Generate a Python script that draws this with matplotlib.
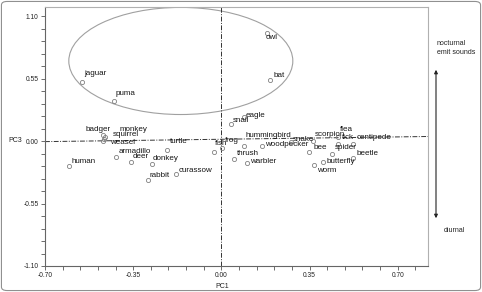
import numpy as np
import matplotlib
matplotlib.use("Agg")
import matplotlib.pyplot as plt
from matplotlib.patches import Ellipse, FancyBboxPatch, FancyArrowPatch

plt.rcParams['font.family'] = ['Liberation Sans', 'DejaVu Sans']

# PCA scores (PC1, PC3)
animals = ['owl', 'bat', 'jaguar', 'puma', 'eagle', 'snail', 'fish', 'frog',
           'hummingbird', 'woodpecker', 'thrush', 'warbler', 'snake', 'scorpion',
           'flea', 'tick', 'centipede', 'bee', 'spider', 'beetle', 'butterfly',
           'worm', 'badger', 'monkey', 'squirrel', 'weasel', 'human', 'armadillo',
           'deer', 'donkey', 'turtle', 'rabbit', 'curassow']
pc1 = [0.181, 0.192, -0.554, -0.427, 0.089, 0.038, -0.030, 0.002,
       0.089, 0.161, 0.050, 0.101, 0.276, 0.363,
       0.462, 0.462, 0.522, 0.347, 0.438, 0.522, 0.403,
       0.367, -0.470, -0.462, -0.466, -0.470, -0.605, -0.419,
       -0.359, -0.276, -0.216, -0.292, -0.181]
pc3 = [0.952, 0.537, 0.520, 0.352, 0.211, 0.150, -0.097, -0.062,
       -0.044, -0.044, -0.159, -0.194, -0.009, 0.000,
       0.035, -0.026, -0.026, -0.097, -0.115, -0.145, -0.185,
       -0.211, 0.053, 0.035, 0.018, 0.000, -0.220, -0.141,
       -0.185, -0.203, -0.079, -0.344, -0.291]

# label offsets from each point (pixels)
label_dx = [-1, 4, 2, 2, 2, 2, 1, 3,
            2, 3, 3, 3, 2, 2,
            2, 4, 4, 5, 3, 4, 4,
            3, -17, 15, 9, 7, 3, 3,
            2, 1, 3, 2, 3]
label_dy = [-5, 5, 8, 8, 2, 4, 9, 8,
            11, 2, 6, 2, 3, 7,
            8, 6, 6, 5, 7, 4, 1,
            -5, 6, 8, 4, -1, 5, 6,
            6, 6, 9, 5, 4]

x_ticks = [-0.70, -0.35, 0.00, 0.35, 0.70]
y_ticks = [-1.10, -0.55, 0.00, 0.55, 1.10]

fig = plt.figure(figsize=(4.82, 2.92), dpi=100)
ax = fig.add_axes([45 / 482, 1 - 266 / 292, (428 - 45) / 482, (266 - 7) / 292])

ax.set_xlim(-0.70, 0.82)
ax.set_ylim(-1.10, 1.18)

# reference lines
ls = (0, (5, 1.5, 1, 1.5))
ax.plot([0, 0], [-1.10, 1.18], color='#333333', lw=0.7, linestyle=ls)
ax.plot([-0.70, 0.82], [-0.005, 0.04], color='#333333', lw=0.7, linestyle=ls)

# ellipse around nocturnal / sound-emitting group
ax.add_patch(Ellipse((-0.161, 0.705), 0.889, 0.943, fill=False,
                     edgecolor='#a0a0a0', lw=0.8))

ax.plot(pc1, pc3, 'o', markersize=3, markerfacecolor='none',
        markeredgecolor='#808080', markeredgewidth=0.6, linestyle='none')

for name, x, y, dx, dy in zip(animals, pc1, pc3, label_dx, label_dy):
    ax.annotate(name, (x, y), xytext=(dx, dy), textcoords='offset pixels',
                ha='left', va='center', fontsize=5.8, color='#151515')

ax.set_xticks(x_ticks)
ax.set_xticklabels([f'{v:.2f}' for v in x_ticks])
ax.set_xticks(np.arange(-0.70, 0.80, 0.07), minor=True)
ax.set_yticks(y_ticks)
ax.set_yticklabels([f'{v:.2f}' for v in y_ticks])
ax.set_yticks(np.arange(-1.10, 1.15, 0.11), minor=True)
ax.tick_params(which='both', direction='out', length=3, width=0.6,
               color='#555555', labelsize=4.8, labelcolor='#222222', pad=1.5)

for side in ['top', 'right']:
    ax.spines[side].set_color('#b0b0b0')
    ax.spines[side].set_linewidth(0.8)
for side in ['left', 'bottom']:
    ax.spines[side].set_color('#666666')
    ax.spines[side].set_linewidth(0.8)

fig.text(222 / 482, 1 - 287 / 292, 'PC1', fontsize=5, color='#222222',
         ha='center', va='center')
fig.text(8 / 482, 1 - 141 / 292, 'PC3', fontsize=5, color='#222222',
         ha='left', va='center')

# direction arrow on the right
fig.patches.append(FancyArrowPatch(
    (436 / 482, 1 - 67 / 292), (436 / 482, 1 - 221 / 292),
    transform=fig.transFigure, arrowstyle='<|-|>', mutation_scale=5,
    color='#222222', lw=0.8))
fig.text(437 / 482, 1 - 44 / 292, 'nocturnal', fontsize=5, color='#222222',
         ha='left', va='center')
fig.text(437 / 482, 1 - 52 / 292, 'emit sounds', fontsize=5, color='#222222',
         ha='left', va='center')
fig.text(444 / 482, 1 - 231 / 292, 'diurnal', fontsize=5, color='#222222',
         ha='left', va='center')

# outer frame
fig.patches.append(FancyBboxPatch((0.003, 0.005), 0.994, 0.99,
                                  boxstyle='round,pad=0,rounding_size=0.012',
                                  transform=fig.transFigure, fill=False,
                                  edgecolor='#909090', lw=0.8))

fig.savefig('out.png', dpi=100)
